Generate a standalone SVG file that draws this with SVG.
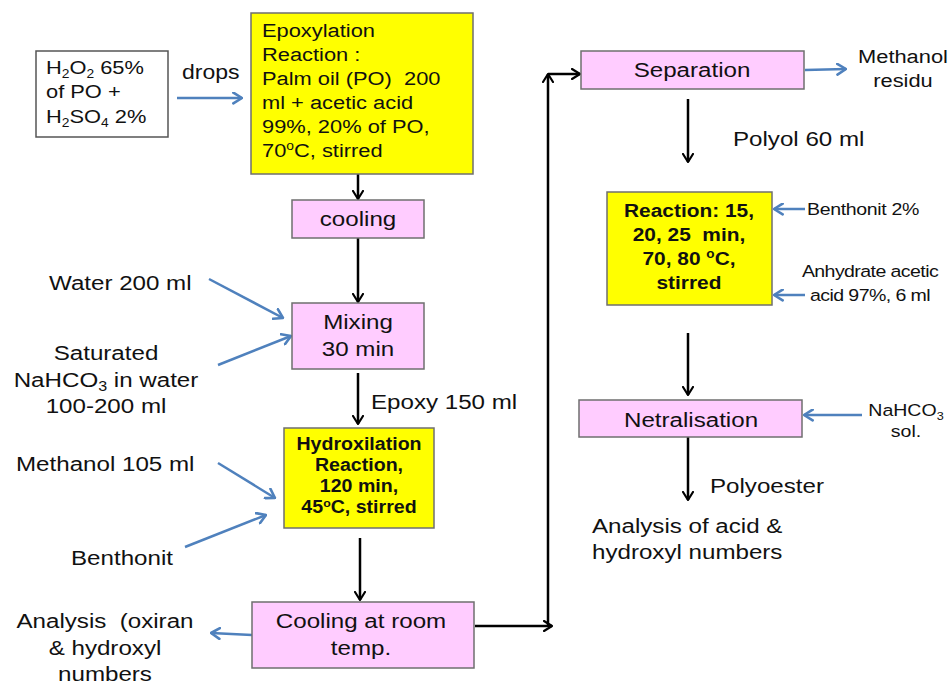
<svg xmlns="http://www.w3.org/2000/svg" width="951" height="684" viewBox="0 0 951 684">
<defs>
<marker id="ab" viewBox="0 0 10 12" refX="9" refY="6" markerWidth="10" markerHeight="12" markerUnits="userSpaceOnUse" orient="auto">
<path d="M1,1 L9,6 L1,11" fill="none" stroke="#000" stroke-width="2.2" stroke-linecap="round" stroke-linejoin="round"/>
</marker>
<marker id="au" viewBox="0 0 10 12" refX="9" refY="6" markerWidth="11" markerHeight="13" markerUnits="userSpaceOnUse" orient="auto">
<path d="M1,1 L9,6 L1,11" fill="none" stroke="#4F81BD" stroke-width="2.4" stroke-linecap="round" stroke-linejoin="round"/>
</marker>
</defs>
<style>
text{font-family:"Liberation Sans",Arial,sans-serif;fill:#111;white-space:pre}
.f21{font-size:21px}
.f19{font-size:19px}
.f17{font-size:17px}
.b{font-weight:bold;font-size:17px}
.b2{font-weight:bold;font-size:18.5px}
.m{text-anchor:middle}
.pink{fill:#FFCCFF;stroke:#6f6f6f;stroke-width:1.5}
.yel{fill:#FFFF00;stroke:#6f6f6f;stroke-width:1.5}
.wht{fill:#fff;stroke:#555;stroke-width:1.5}
.k{stroke:#000;stroke-width:2.5;fill:none;marker-end:url(#ab)}
.u{stroke:#4F81BD;stroke-width:2.5;fill:none;marker-end:url(#au)}
</style>
<rect width="951" height="684" fill="#fff"/>

<g id="connectors">
<line class="k" x1="358" y1="152" x2="358" y2="199"/>
<line class="k" x1="358" y1="238" x2="358" y2="302"/>
<line class="k" x1="358" y1="373" x2="358" y2="424"/>
<line class="k" x1="360" y1="538" x2="360" y2="600"/>
<line class="k" x1="475" y1="626" x2="552" y2="626"/>
<line class="k" x1="548" y1="626" x2="548" y2="74"/>
<line class="k" x1="548" y1="74" x2="580" y2="74"/>
<line class="k" x1="688" y1="99" x2="688" y2="162"/>
<line class="k" x1="688" y1="333" x2="688" y2="395"/>
<line class="k" x1="688" y1="437" x2="688" y2="500"/>
<line class="u" x1="177" y1="98" x2="242" y2="98"/>
<line class="u" x1="209" y1="279" x2="283" y2="318"/>
<line class="u" x1="218" y1="365" x2="291" y2="336"/>
<line class="u" x1="218" y1="463" x2="275" y2="498"/>
<line class="u" x1="185" y1="547" x2="266" y2="515"/>
<line class="u" x1="252" y1="635" x2="211" y2="633"/>
<line class="u" x1="805" y1="70" x2="846" y2="69"/>
<line class="u" x1="805" y1="209" x2="774" y2="209"/>
<line class="u" x1="805" y1="295" x2="774" y2="295"/>
<line class="u" x1="862" y1="415" x2="804" y2="415"/>
</g>

<g id="h2o2">
<rect class="wht" x="36" y="51" width="132" height="86"/>
<text class="f19" transform="translate(46 0) scale(1.15 1)"><tspan x="0" y="74">H<tspan font-size="12" dy="4">2</tspan><tspan dy="-4">O</tspan><tspan font-size="12" dy="4">2</tspan><tspan dy="-4"> 65%</tspan></tspan><tspan x="0" y="98">of PO +</tspan><tspan x="0" y="123">H<tspan font-size="12" dy="4">2</tspan><tspan dy="-4">SO</tspan><tspan font-size="12" dy="4">4</tspan><tspan dy="-4"> 2%</tspan></tspan></text>
</g>
<g id="drops"><text transform="translate(182 79) scale(1.15 1)" style="font-size:20px">drops</text></g>

<g id="epoxylation">
<rect class="yel" x="251" y="13" width="222" height="161"/>
<text class="f19" transform="translate(262 0) scale(1.15 1)"><tspan x="0" y="37">Epoxylation</tspan><tspan x="0" y="61">Reaction :</tspan><tspan x="0" y="85">Palm oil (PO)  200</tspan><tspan x="0" y="109">ml + acetic acid</tspan><tspan x="0" y="133">99%, 20% of PO,</tspan><tspan x="0" y="157">70<tspan font-size="12" dy="-7">o</tspan><tspan dy="7">C, stirred</tspan></tspan></text>
</g>

<g id="cooling">
<rect class="pink" x="292" y="200" width="132" height="38"/>
<text class="f21 m" transform="translate(358 226) scale(1.15 1)">cooling</text>
</g>

<g id="mixing">
<rect class="pink" x="292" y="303" width="132" height="66"/>
<text class="f21 m" transform="translate(358 0) scale(1.15 1)"><tspan x="0" y="329">Mixing</tspan><tspan x="0" y="356">30 min</tspan></text>
</g>

<g id="water"><text class="f21" transform="translate(49 290) scale(1.15 1)">Water 200 ml</text></g>
<g id="saturated">
<text class="f21 m" transform="translate(106 0) scale(1.15 1)"><tspan x="0" y="360">Saturated</tspan><tspan x="0" y="387">NaHCO<tspan font-size="14" dy="4">3</tspan><tspan dy="-4"> in water</tspan></tspan><tspan x="0" y="413">100-200 ml</tspan></text>
</g>
<g id="epoxy"><text class="f21" transform="translate(371 409) scale(1.15 1)">Epoxy 150 ml</text></g>

<g id="hydroxilation">
<rect class="yel" x="284" y="428" width="150" height="100"/>
<text class="b m" transform="translate(359 0) scale(1.12 1)" style="font-size:17.5px"><tspan x="0" y="450">Hydroxilation</tspan><tspan x="0" y="471">Reaction,</tspan><tspan x="0" y="492">120 min,</tspan><tspan x="0" y="513">45<tspan font-size="11" dy="-6">o</tspan><tspan dy="6">C, stirred</tspan></tspan></text>
</g>

<g id="methanol105"><text class="f21" transform="translate(16 471) scale(1.15 1)">Methanol 105 ml</text></g>
<g id="benthonit"><text class="f21" transform="translate(71 565) scale(1.15 1)">Benthonit</text></g>

<g id="coolingroom">
<rect class="pink" x="252" y="602" width="222" height="66"/>
<text class="f21 m" transform="translate(361 0) scale(1.15 1)"><tspan x="0" y="628">Cooling at room</tspan><tspan x="0" y="655">temp.</tspan></text>
</g>

<g id="analysis1">
<text class="f21 m" transform="translate(105 0) scale(1.15 1)"><tspan x="0" y="628">Analysis  (oxiran</tspan><tspan x="0" y="655">&amp; hydroxyl</tspan><tspan x="0" y="681">numbers</tspan></text>
</g>

<g id="separation">
<rect class="pink" x="581" y="51" width="223" height="38"/>
<text class="f21 m" transform="translate(692 77) scale(1.15 1)">Separation</text>
</g>
<g id="methanolresidu">
<text class="f19 m" transform="translate(903 0) scale(1.15 1)"><tspan x="0" y="63">Methanol</tspan><tspan x="0" y="87">residu</tspan></text>
</g>
<g id="polyol"><text class="f21" transform="translate(733 146) scale(1.15 1)">Polyol 60 ml</text></g>

<g id="reaction">
<rect class="yel" x="607" y="192" width="165" height="113"/>
<text class="b2 m" transform="translate(689 0) scale(1.13 1)"><tspan x="0" y="217">Reaction: 15,</tspan><tspan x="0" y="241">20, 25  min,</tspan><tspan x="0" y="265">70, 80 <tspan font-size="12" dy="-7">o</tspan><tspan dy="7">C,</tspan></tspan><tspan x="0" y="289">stirred</tspan></text>
</g>
<g id="benthonit2"><text class="f17" transform="translate(807 215) scale(1.15 1)" letter-spacing="-0.3">Benthonit 2%</text></g>
<g id="anhydrate">
<text class="f17 m" transform="translate(870 0) scale(1.15 1)" letter-spacing="-0.5"><tspan x="0" y="277">Anhydrate acetic</tspan><tspan x="0" y="301">acid 97%, 6 ml</tspan></text>
</g>

<g id="netralisation">
<rect class="pink" x="579" y="400" width="223" height="37"/>
<text class="f21 m" transform="translate(691 427) scale(1.15 1)">Netralisation</text>
</g>
<g id="nahco3sol">
<text class="f17 m" transform="translate(906 0) scale(1.15 1)"><tspan x="0" y="416">NaHCO<tspan font-size="11" dy="4">3</tspan></tspan><tspan x="0" y="437">sol.</tspan></text>
</g>
<g id="polyoester"><text class="f21" transform="translate(710 493) scale(1.15 1)">Polyoester</text></g>
<g id="analysis2">
<text class="f21" transform="translate(592 0) scale(1.15 1)"><tspan x="0" y="533">Analysis of acid &amp;</tspan><tspan x="0" y="559">hydroxyl numbers</tspan></text>
</g>
</svg>
